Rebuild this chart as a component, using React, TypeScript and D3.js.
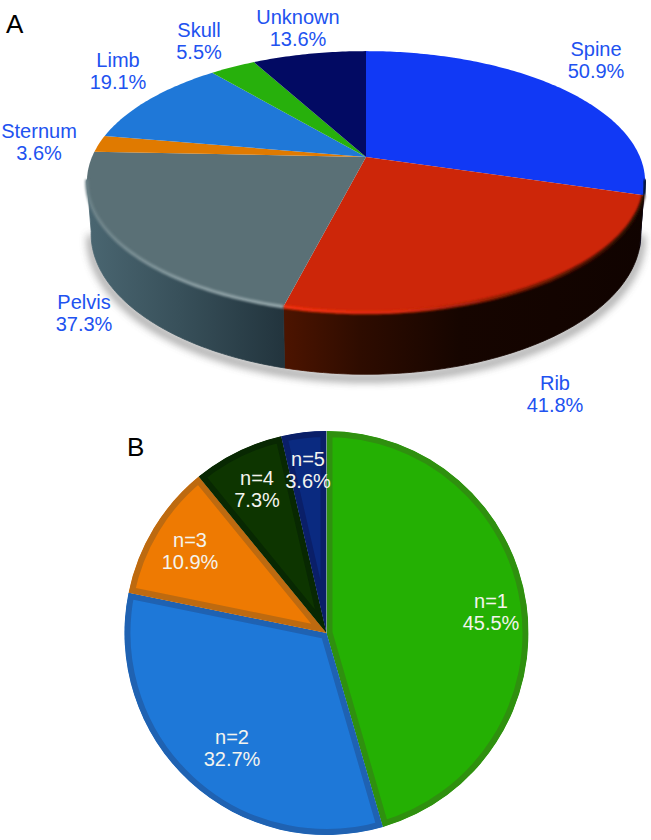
import React from "react";
import * as d3 from "d3";

// panel A: metastasis sites, B: number of sites
const siteNames = ["Spine", "Rib", "Pelvis", "Sternum", "Limb", "Skull", "Unknown"];
const siteValues = [50.9, 41.8, 37.3, 3.6, 19.1, 5.5, 13.6];
const countNames = ["n=1", "n=2", "n=3", "n=4", "n=5"];
const countValues = [45.5, 32.7, 10.9, 7.3, 3.6];

const siteColors = ["#1139f5", "#cd2609", "#5a7076", "#e07a00", "#1f78d8", "#27b00c", "#020a63"];
const countFill = ["#24b003", "#1e78d8", "#ee7a02", "#0d3500", "#0a2a80"];
const countEdge = ["#2f900f", "#1f62b2", "#bd6a10", "#082802", "#0a1f68"];

// label centres (x, first baseline)
const siteLabelPos = [[596, 56], [555, 390], [84, 309], [39, 138], [118, 67], [199, 37], [298, 24]];
const countLabelPos = [[491, 608], [232, 744], [190, 547], [257, 485], [308, 466]];

const TAU = Math.PI * 2;
const cx = 366, cy = 157, R = 274, B = 126, K = 0.19, DEPTH = 50;
const LABEL = "#2152f0";
const FONT = "'Liberation Sans', Arial, sans-serif";

// tilted disc seen in perspective, angle clockwise from the back
const project = (a: number, drop = 0): [number, number] => {
  const u = Math.sin(a), v = -Math.cos(a);
  const s = 1 / (1 - K * v);
  const shrink = drop ? 0.985 : 1;
  return [cx + R * u * s * shrink, cy + B * v * s + drop * s];
};

const samples = (a0: number, a1: number) => {
  const n = Math.max(2, Math.ceil((a1 - a0) / 0.015));
  return d3.range(n + 1).map(i => a0 + ((a1 - a0) * i) / n);
};

const line = d3.line<[number, number]>();

const sideVisible: [number, number] = [(100 / 360) * TAU, (260 / 360) * TAU];

const sitePie = d3.pie<number>().sort(null)(siteValues);
const countPie = d3.pie<number>().sort(null)(countValues);

const bR = 202, bx = 326.5, by = 633;
const countArc = d3.arc<d3.PieArcDatum<number>>().innerRadius(0).outerRadius(bR);

const topPath = (a0: number, a1: number) =>
  line([[cx, cy], ...samples(a0, a1).map(a => project(a))])! + "Z";

const sidePath = (a0: number, a1: number) => {
  const s = samples(a0, a1);
  return (
    line([...s.map(a => project(a)), ...s.slice().reverse().map(a => project(a, DEPTH))])! + "Z"
  );
};

const sideGrads: Record<string, [number, string][]> = {
  Spine: [[630, "#0a0c40"], [646, "#04051c"]],
  Rib: [[285, "#4c1400"], [360, "#2e0c00"], [460, "#160500"], [646, "#100300"]],
  Pelvis: [[88, "#4a6671"], [180, "#38505a"], [285, "#22343d"]],
};
const rimGrads: Record<string, [number, string][]> = {
  Spine: [[630, "#0c1a80"], [646, "#050828"]],
  Rib: [[285, "#f5300c"], [400, "#d92a0a"], [500, "#8a1c06"], [640, "#200800"]],
  Pelvis: [[86, "#6a8086"], [180, "#84989d"], [285, "#92a4a8"]],
};

const Two = ({ x, y, a, b, fill }: { x: number; y: number; a: string; b: string; fill: string }) => (
  <text textAnchor="middle" fontFamily={FONT} fontSize={20} fill={fill}>
    <tspan x={x} y={y}>{a}</tspan>
    <tspan x={x} y={y + 22}>{b}</tspan>
  </text>
);

const visible = (d: d3.PieArcDatum<number>): [number, number] | null => {
  const a0 = Math.max(d.startAngle, sideVisible[0]);
  const a1 = Math.min(d.endAngle, sideVisible[1]);
  return a1 > a0 ? [a0, a1] : null;
};

export default function App() {
  return (
    <svg width={651} height={840} style={{ position: "absolute", left: 0, top: 0 }}>
      <defs>
        <filter id="shadow" x="-10%" y="-20%" width="120%" height="140%">
          <feGaussianBlur stdDeviation="4" />
        </filter>
        <filter id="rim" x="-5%" y="-10%" width="110%" height="120%">
          <feGaussianBlur stdDeviation="1.1" />
        </filter>
        {Object.entries(sideGrads).map(([k, stops]) => (
          <linearGradient key={k} id={`side-${k}`} gradientUnits="userSpaceOnUse"
            x1={stops[0][0]} x2={stops[stops.length - 1][0]} y1={0} y2={0}>
            {stops.map(([x, c]) => (
              <stop key={x} stopColor={c}
                offset={(x - stops[0][0]) / (stops[stops.length - 1][0] - stops[0][0])} />
            ))}
          </linearGradient>
        ))}
        {Object.entries(rimGrads).map(([k, stops]) => (
          <linearGradient key={k} id={`rim-${k}`} gradientUnits="userSpaceOnUse"
            x1={stops[0][0]} x2={stops[stops.length - 1][0]} y1={0} y2={0}>
            {stops.map(([x, c]) => (
              <stop key={x} stopColor={c}
                offset={(x - stops[0][0]) / (stops[stops.length - 1][0] - stops[0][0])} />
            ))}
          </linearGradient>
        ))}
        {countPie.map((d, i) => (
          <clipPath key={i} id={`clip-${i}`}>
            <path d={countArc(d)!} />
          </clipPath>
        ))}
      </defs>

      {/* A */}
      <path
        d={line(samples(sideVisible[0], sideVisible[1]).map(a => {
          const [x, y] = project(a, DEPTH);
          return [x, y + 4];
        }))!}
        fill="none" stroke="#555" strokeWidth={6} opacity={0.7} filter="url(#shadow)"
      />
      {sitePie.map((d, i) => {
        const r = visible(d);
        return r ? (
          <path key={i} d={sidePath(r[0], r[1])} fill={`url(#side-${siteNames[i]})`}
            stroke={`url(#side-${siteNames[i]})`} strokeWidth={0.8} />
        ) : null;
      })}
      {sitePie.map((d, i) => (
        <path key={i} d={topPath(d.startAngle, d.endAngle)} fill={siteColors[i]} />
      ))}
      {sitePie.map((d, i) => {
        const r = visible(d);
        return r ? (
          <path key={i} d={line(samples(r[0], r[1]).map(a => project(a)))!} fill="none"
            stroke={`url(#rim-${siteNames[i]})`} strokeWidth={3.5} filter="url(#rim)" />
        ) : null;
      })}
      {siteNames.map((n, i) => (
        <Two key={n} x={siteLabelPos[i][0]} y={siteLabelPos[i][1]} a={n}
          b={`${siteValues[i].toFixed(1)}%`} fill={LABEL} />
      ))}
      <text x={6} y={33} fontFamily={FONT} fontSize={26} fill="#000">A</text>

      {/* B */}
      <g transform={`translate(${bx},${by})`}>
        {countPie.map((d, i) => (
          <g key={i} clipPath={`url(#clip-${i})`}>
            <path d={countArc(d)!} fill={countFill[i]} stroke={countEdge[i]} strokeWidth={12} />
          </g>
        ))}
      </g>
      {countNames.map((n, i) => (
        <Two key={n} x={countLabelPos[i][0]} y={countLabelPos[i][1]} a={n}
          b={`${countValues[i].toFixed(1)}%`} fill="#f4f4ee" />
      ))}
      <text x={127} y={456} fontFamily={FONT} fontSize={26} fill="#000">B</text>
    </svg>
  );
}
